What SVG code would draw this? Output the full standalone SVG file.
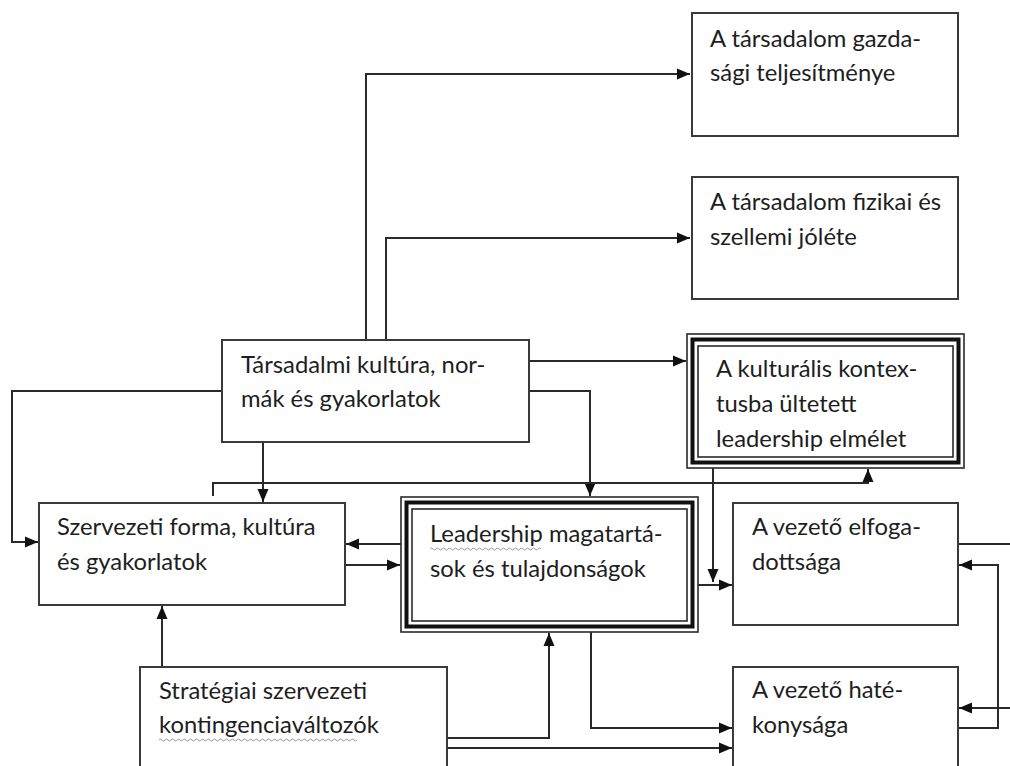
<svg xmlns="http://www.w3.org/2000/svg" width="1010" height="766" viewBox="0 0 1010 766">
<style>
.box{fill:#fff;stroke:#3a3a3a;stroke-width:2}
.thin{fill:none;stroke:#2a2a2a;stroke-width:1.6}
.thick{fill:none;stroke:#111;stroke-width:4}
.lbl{font-family:Lato,"Liberation Sans",sans-serif;font-size:23.8px;fill:#1e1e1e}
.con{fill:none;stroke:#2a2a2a;stroke-width:2}
.wavy{fill:none;stroke:#9a9a9a;stroke-width:1}
</style>
<defs>
<marker id="ah" markerUnits="userSpaceOnUse" markerWidth="14" markerHeight="14" viewBox="0 0 14 14" refX="13" refY="7" orient="auto">
<path d="M0,1.5 L13,7 L0,12.5 Z" fill="#111"/>
</marker>
<clipPath id="clipK"><rect x="699" y="347" width="253" height="104"/></clipPath>
</defs>
<g id="connectors">
<path class="con" d="M366,340 V74 H690" marker-end="url(#ah)"/>
<path class="con" d="M386,340 V238 H690" marker-end="url(#ah)"/>
<path class="con" d="M529,361 H686" marker-end="url(#ah)"/>
<path class="con" d="M529,391 H590 V496" marker-end="url(#ah)"/>
<path class="con" d="M263,442 V502" marker-end="url(#ah)"/>
<path class="con" d="M222,391 H12 V542 H38" marker-end="url(#ah)"/>
<path class="con" d="M213,496 V483 H868 V469" marker-end="url(#ah)"/>
<path class="con" d="M401,544 H346" marker-end="url(#ah)"/>
<path class="con" d="M345,565 H400" marker-end="url(#ah)"/>
<path class="con" d="M698,585 H732" marker-end="url(#ah)"/>
<path class="con" d="M713,468 V582" marker-end="url(#ah)"/>
<path class="con" d="M162,667 V606" marker-end="url(#ah)"/>
<path class="con" d="M447,738 H549 V633" marker-end="url(#ah)"/>
<path class="con" d="M447,748 H732" marker-end="url(#ah)"/>
<path class="con" d="M591,632 V728 H732" marker-end="url(#ah)"/>
<path class="con" d="M958,728 H998 V565 H959" marker-end="url(#ah)"/>
<path class="con" d="M958,544 H1012"/>
<path class="con" d="M1012,708 H959" marker-end="url(#ah)"/>
</g>
<g id="gazdasagi">
<rect class="box" x="692" y="13" width="266" height="123"/>
<text class="lbl" x="710" y="47">A társadalom gazda-</text>
<text class="lbl" x="710" y="81">sági teljesítménye</text>
</g>
<g id="fizikai">
<rect class="box" x="692" y="177" width="266" height="122"/>
<text class="lbl" x="710" y="210">A társadalom fizikai és</text>
<text class="lbl" x="710" y="245">szellemi jóléte</text>
</g>
<g id="tarsadalmi">
<rect class="box" x="222" y="340" width="307" height="102"/>
<text class="lbl" x="241" y="373">Társadalmi kultúra, nor-</text>
<text class="lbl" x="241" y="407">mák és gyakorlatok</text>
</g>
<g id="kulturalis">
<rect x="687" y="334" width="277" height="134" fill="#fff"/>
<rect class="thin" x="687" y="334" width="277" height="134"/>
<rect class="thick" x="692.5" y="339.5" width="266" height="123"/>
<rect class="thin" x="698" y="346" width="255" height="111"/>
<g clip-path="url(#clipK)">
<text class="lbl" x="716" y="377">A kulturális kontex-</text>
<text class="lbl" x="716" y="412">tusba ültetett</text>
<text class="lbl" x="716" y="447">leadership elmélet</text>
</g>
</g>
<g id="szervezeti">
<rect class="box" x="39" y="503" width="306" height="102"/>
<text class="lbl" x="57" y="535">Szervezeti forma, kultúra</text>
<text class="lbl" x="57" y="570">és gyakorlatok</text>
</g>
<g id="leadership">
<rect x="401" y="497" width="297" height="135" fill="#fff"/>
<rect class="thin" x="401" y="497" width="297" height="135"/>
<rect class="thick" x="406.5" y="502.5" width="286" height="124"/>
<rect class="thin" x="412" y="509" width="275" height="112"/>
<text class="lbl" x="430" y="542">Leadership magatartá-</text>
<text class="lbl" x="430" y="577">sok és tulajdonságok</text>
<path class="wavy" d="M430,549 q1.5,-2 3,0 t3,0 t3,0 t3,0 t3,0 t3,0 t3,0 t3,0 t3,0 t3,0 t3,0 t3,0 t3,0 t3,0 t3,0 t3,0 t3,0 t3,0 t3,0 t3,0 t3,0 t3,0 t3,0 t3,0 t3,0 t3,0 t3,0 t3,0 t3,0 t3,0 t3,0 t3,0 t3,0 t3,0 t3,0 t3,0 t3,0"/>
</g>
<g id="elfogadottsag">
<rect class="box" x="733" y="503" width="225" height="122"/>
<text class="lbl" x="752" y="535">A vezető elfoga-</text>
<text class="lbl" x="752" y="570">dottsága</text>
</g>
<g id="hatekonysag">
<rect class="box" x="733" y="667" width="225" height="110"/>
<text class="lbl" x="752" y="698">A vezető haté-</text>
<text class="lbl" x="752" y="733">konysága</text>
</g>
<g id="strategiai">
<rect class="box" x="140" y="667" width="307" height="110"/>
<text class="lbl" x="159" y="699">Stratégiai szervezeti</text>
<text class="lbl" x="159" y="733">kontingenciaváltozók</text>
<path class="wavy" d="M159,740 q1.5,-2 3,0 t3,0 t3,0 t3,0 t3,0 t3,0 t3,0 t3,0 t3,0 t3,0 t3,0 t3,0 t3,0 t3,0 t3,0 t3,0 t3,0 t3,0 t3,0 t3,0 t3,0 t3,0 t3,0 t3,0 t3,0 t3,0 t3,0 t3,0 t3,0 t3,0 t3,0 t3,0 t3,0 t3,0 t3,0 t3,0 t3,0 t3,0 t3,0 t3,0 t3,0 t3,0 t3,0 t3,0 t3,0 t3,0 t3,0 t3,0 t3,0 t3,0 t3,0 t3,0 t3,0 t3,0 t3,0 t3,0 t3,0 t3,0 t3,0 t3,0 t3,0 t3,0 t3,0 t3,0 t3,0 t3,0"/>
</g>
</svg>
